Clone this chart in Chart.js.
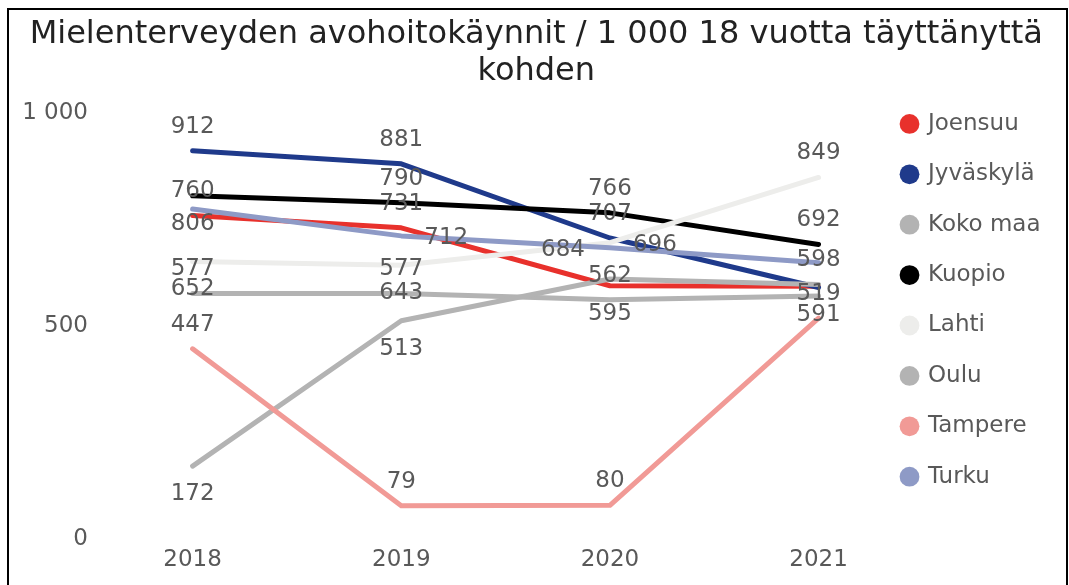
<!DOCTYPE html>
<html lang="fi">
<head>
<meta charset="utf-8">
<title>Mielenterveyden avohoitokäynnit</title>
<script src="https://cdn.jsdelivr.net/npm/chart.js@4.4.1/dist/chart.umd.min.js"></script>
<style>
  html, body { margin: 0; padding: 0; background: #fff; overflow: hidden; }
  #frame {
    position: absolute; left: 7px; top: 8px;
    width: 1057px; height: 600px;
    border: 2px solid #000; border-bottom: none;
  }
  #chart-box { position: relative; width: 1057px; height: 575px; }
</style>
</head>
<body>
<div id="frame">
  <div id="chart-box"><canvas id="visitsChart"></canvas></div>
</div>
<script>
// Years on the x axis
const years = [2018, 2019, 2020, 2021];

// Visits per 1 000 adults
const joensuu   = [760, 731, 595, 594];
const jyvaskyla = [912, 881, 707, 591];
const kokoMaa   = [577, 577, 562, 571];
const kuopio    = [806, 790, 766, 692];
const lahti     = [652, 643, 696, 849];
const oulu      = [172, 513, 611, 598];
const tampere   = [447, 79, 80, 519];
const turku     = [775, 712, 684, 649];

const yTicks = [0, 500, 1000];

const FONT = "'DejaVu Sans', sans-serif";
const GREY_TEXT = "#595959";

// where each value label sits relative to its point (null = hidden, like in the original)
const labelSpots = [
  ["above", "above", "below", null],    // Joensuu
  ["above", "above", "above", "below"], // Jyväskylä
  ["above", "above", "above", null],    // Koko maa
  ["below", "above", "above", "above"], // Kuopio
  ["below", "below", "right", "above"], // Lahti
  ["below", "below", null, "above"],    // Oulu
  ["above", "above", "above", "above"], // Tampere
  [null, "right", "left", null]         // Turku
];

const series = [
  { label: "Joensuu",   data: joensuu,   color: "#E8312C" },
  { label: "Jyväskylä", data: jyvaskyla, color: "#1F3A8B" },
  { label: "Koko maa",  data: kokoMaa,   color: "#B3B3B3" },
  { label: "Kuopio",    data: kuopio,    color: "#000000" },
  { label: "Lahti",     data: lahti,     color: "#EDEDEB" },
  { label: "Oulu",      data: oulu,      color: "#B3B3B3" },
  { label: "Tampere",   data: tampere,   color: "#F19A96" },
  { label: "Turku",     data: turku,     color: "#8E9AC6" }
];

function spaced(v) {
  return String(v).replace(/\B(?=(\d{3})+(?!\d))/g, " ");
}

//////////////////////////////
// Value labels next to the points
//////////////////////////////

const pointLabels = {
  id: "pointLabels",
  afterDatasetsDraw(chart, args, opts) {
    const ctx = chart.ctx;
    ctx.save();
    ctx.font = opts.font;
    ctx.fillStyle = opts.color;
    chart.data.datasets.forEach((ds, i) => {
      const spots = opts.spots[i];
      chart.getDatasetMeta(i).data.forEach((pt, j) => {
        const spot = spots[j];
        if (!spot) return;
        let x = pt.x;
        let y = pt.y;
        ctx.textAlign = "center";
        ctx.textBaseline = "middle";
        if (spot === "above") {
          y -= 24;
        } else if (spot === "below") {
          y += 28;
        } else if (spot === "right") {
          x += 23; y += 2; ctx.textAlign = "left";
        } else if (spot === "left") {
          x -= 25; y += 2; ctx.textAlign = "right";
        }
        ctx.fillText(spaced(ds.data[j]), x, y);
      });
    });
    ctx.restore();
  }
};

const ctx = document.getElementById("visitsChart").getContext("2d");

new Chart(ctx, {
  type: "line",
  data: {
    labels: years,
    datasets: series.map((s, i) => ({
      label: s.label,
      data: s.data,
      borderColor: s.color,
      backgroundColor: s.color,
      borderWidth: 5,
      borderCapStyle: "round",
      borderJoinStyle: "round",
      tension: 0,
      pointRadius: 0,
      pointHoverRadius: 0,
      pointBorderWidth: 0,
      order: series.length - i // later series on top, like Excel
    }))
  },
  options: {
    responsive: true,
    maintainAspectRatio: false,
    animation: false,
    layout: { padding: { left: 13, right: 15.5, top: 0, bottom: 4 } },
    plugins: {
      title: {
        display: true,
        text: ["Mielenterveyden avohoitokäynnit / 1 000 18 vuotta täyttänyttä", "kohden"],
        color: "#222222",
        font: { family: FONT, size: 32, weight: "normal", lineHeight: 1.156 },
        padding: { top: 6, bottom: -5 }
      },
      legend: {
        position: "right",
        align: "start",
        fullSize: false,
        labels: {
          usePointStyle: true,
          pointStyle: "circle",
          boxWidth: 14,
          boxHeight: 14,
          padding: 27.4,
          color: GREY_TEXT,
          font: { family: FONT, size: 23 },
          sort: (a, b) => a.datasetIndex - b.datasetIndex
        }
      },
      tooltip: { enabled: false },
      pointLabels: {
        spots: labelSpots,
        font: "23px " + FONT,
        color: GREY_TEXT
      }
    },
    scales: {
      x: {
        type: "linear",
        min: 2017.537,
        max: 2021.271,
        grid: { display: false, drawTicks: false },
        border: { display: false },
        afterBuildTicks: (scale) => {
          scale.ticks = years.map(v => ({ value: v }));
        },
        ticks: {
          padding: 7,
          maxRotation: 0,
          color: GREY_TEXT,
          font: { family: FONT, size: 23 },
          callback: (v) => String(v)
        }
      },
      y: {
        min: 0,
        max: 1066,
        grid: { display: false, drawTicks: false },
        border: { display: false },
        afterBuildTicks: (scale) => {
          scale.ticks = yTicks.map(v => ({ value: v }));
        },
        afterFit: (scale) => {
          scale.width = 74;
        },
        ticks: {
          padding: 8,
          color: GREY_TEXT,
          font: { family: FONT, size: 23 },
          callback: (v) => spaced(v)
        }
      }
    }
  },
  plugins: [pointLabels]
});
</script>
</body>
</html>
